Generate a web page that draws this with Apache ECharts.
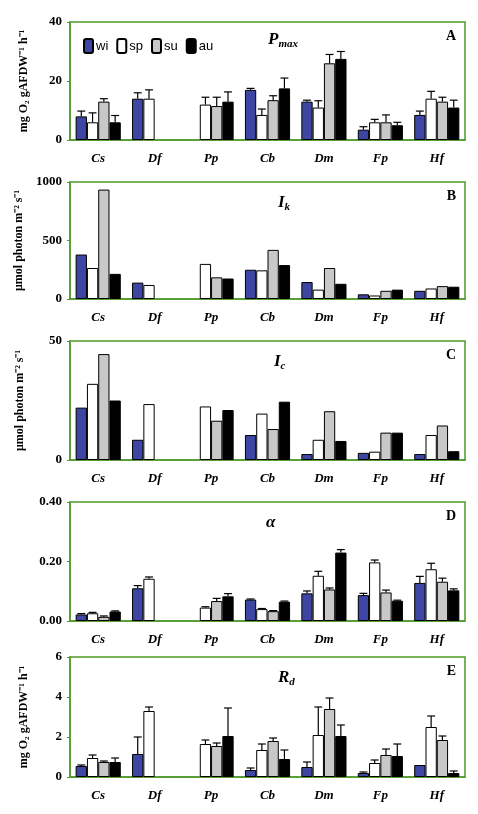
<!DOCTYPE html><html><head><meta charset="utf-8"><script src="https://cdn.jsdelivr.net/npm/echarts@6/dist/echarts.min.js"></script></head><body style="margin:0;background:#fff"><div id="c" style="width:478px;height:814px"></div><script>
const categories=['Cs','Df','Pp','Cb','Dm','Fp','Hf'];
const seasons=['wi','sp','su','au'];
const A_wi=[8,14,null,17,13,3.5,8.5],A_sp=[6,14,12,8.5,11,6,14],A_su=[13,null,11.5,13.5,26,6,13],A_au=[6,null,13,17.5,27.5,5,11];
const A_wiE=[1.8,2,null,0.5,0.5,1,1.3],A_spE=[3.2,3,2.5,2,2.3,1,2.5],A_suE=[1,null,3,1.5,3,2.5,1.5],A_auE=[2.3,null,3.3,3.5,2.5,1,2.5];
const B_wi=[380,140,null,250,145,40,70],B_sp=[265,120,300,245,80,30,90],B_su=[935,null,185,420,265,70,110],B_au=[215,null,175,290,130,80,105];
const C_wi=[22,8.5,null,10.5,2.5,3,2.5],C_sp=[32,23.5,22.5,19.5,8.5,3.5,10.5],C_su=[44.5,null,16.5,13,20.5,11.5,14.5],C_au=[25,null,21,24.5,8,11.5,3.7];
const D_wi=[0.022,0.11,null,0.072,0.093,0.087,0.128],D_sp=[0.026,0.142,0.045,0.04,0.152,0.197,0.174],D_su=[0.014,null,0.067,0.033,0.106,0.096,0.132],D_au=[0.032,null,0.083,0.065,0.23,0.068,0.103];
const D_wiE=[0.003,0.009,null,0.002,0.008,0.006,0.022],D_spE=[0.003,0.006,0.003,0.002,0.015,0.008,0.02],D_suE=[0.003,null,0.009,0.002,0.005,0.008,0.012],D_auE=[0.002,null,0.009,0.002,0.01,0.002,0.005];
const E_wi=[0.55,1.15,null,0.35,0.5,0.2,0.6],E_sp=[0.95,3.3,1.65,1.35,2.1,0.7,2.5],E_su=[0.75,null,1.55,1.8,3.4,1.1,1.85],E_au=[0.75,null,2.05,0.9,2.05,1.05,0.2];
const E_wiE=[0.05,0.85,null,0.1,0.25,0.05,0],E_spE=[0.15,0.2,0.2,0.3,1.4,0.15,0.55],E_suE=[0.05,null,0.15,0.15,0.55,0.3,0.2],E_auE=[0.2,null,1.4,0.45,0.55,0.6,0.1];
const yTicks={A:[0,40,20],B:[0,1000,500],C:[0,50,50],D:[0,0.4,0.2],E:[0,6,2]};

const panels=[
 {id:'A',vals:[A_wi,A_sp,A_su,A_au],errs:[A_wiE,A_spE,A_suE,A_auE],top:22,h:118,name:'mg O₂ gAFDW⁻¹ h⁻¹',title:'{t|P}{s|max}',dec:0},
 {id:'B',vals:[B_wi,B_sp,B_su,B_au],errs:null,top:182,h:117,name:'μmol photon m⁻² s⁻¹',title:'{t|I}{s|k}',dec:0},
 {id:'C',vals:[C_wi,C_sp,C_su,C_au],errs:null,top:341,h:119,name:'μmol photon m⁻² s⁻¹',title:'{t|I}{s|c}',dec:0},
 {id:'D',vals:[D_wi,D_sp,D_su,D_au],errs:[D_wiE,D_spE,D_suE,D_auE],top:502,h:119,name:'',title:'{t|α}',dec:2},
 {id:'E',vals:[E_wi,E_sp,E_su,E_au],errs:[E_wiE,E_spE,E_suE,E_auE],top:657,h:120,name:'mg O₂ gAFDW⁻¹ h⁻¹',title:'{t|R}{s|d}',dec:0}
];
const colors=['#3d47a3','#ffffff','#c8c8c8','#000000'];
const green='#4f9a2a';const GAP=0.2;
const grid=[],xAxis=[],yAxis=[],series=[],graphic=[];
panels.forEach((p,k)=>{
 grid.push({left:70,right:13,top:p.top,height:p.h,show:true,borderColor:green,borderWidth:1.5});
 xAxis.push({type:'category',gridIndex:k,data:categories,axisLine:{lineStyle:{color:green,width:1.5}},axisTick:{lineStyle:{color:green},length:5,inside:false},
  axisLabel:{fontFamily:'Liberation Serif',fontStyle:'italic',fontWeight:'bold',fontSize:13,color:'#000',margin:12}});
 const t=yTicks[p.id];
 yAxis.push({type:'value',gridIndex:k,min:t[0],max:t[1],interval:t[2],splitLine:{show:false},
  axisLine:{show:true,lineStyle:{color:green,width:1.5}},axisTick:{show:true,lineStyle:{color:green},length:3},
  axisLabel:{fontFamily:'Liberation Serif',fontWeight:'bold',fontSize:13,color:'#000',formatter:v=>v.toFixed(p.dec)},
  name:p.name,nameLocation:'middle',nameRotate:90,nameGap:p.id==='A'||p.id==='E'?40:44,
  nameTextStyle:{fontFamily:'Liberation Serif',fontWeight:'bold',fontSize:12,color:'#000'}});
 seasons.forEach((s,i)=>{
  series.push({type:'bar',name:s,xAxisIndex:k,yAxisIndex:k,data:p.vals[i],barGap:'0%',barCategoryGap:(GAP*100)+'%',
   itemStyle:{color:colors[i],borderColor:'#000',borderWidth:1},emphasis:{disabled:true},silent:true});
 });
 if(p.errs){
  seasons.forEach((s,i)=>{
   const d=[];p.vals[i].forEach((v,j)=>{if(v!=null&&p.errs[i][j])d.push([j,v,p.errs[i][j]]);});
   series.push({type:'custom',xAxisIndex:k,yAxisIndex:k,data:d,z:10,silent:true,encode:{x:0,y:1},
    renderItem:(params,api)=>{
     const j=api.value(0),v=api.value(1),e=api.value(2);
     const bw=api.size([1,0])[0]*(1-GAP)/4;
     const a=api.coord([j,v]),b=api.coord([j,v+e]);
     const x=a[0]+(i-1.5)*bw;const cw=bw*0.35;
     return {type:'group',children:[
      {type:'line',shape:{x1:x,y1:a[1],x2:x,y2:b[1]},style:{stroke:'#000',lineWidth:1.2}},
      {type:'line',shape:{x1:x-cw,y1:b[1],x2:x+cw,y2:b[1]},style:{stroke:'#000',lineWidth:1.2}}]};
    }});
  });
 }
 graphic.push({type:'text',left:'center',top:p.top+12,style:{text:p.title,x:0,rich:{t:{fontFamily:'Liberation Serif',fontStyle:'italic',fontWeight:'bold',fontSize:17,fill:'#000'},s:{fontFamily:'Liberation Serif',fontStyle:'italic',fontWeight:'bold',fontSize:11,fill:'#000',padding:[10,0,0,0]}}}});
 graphic.push({type:'text',right:22,top:p.top+7,style:{text:p.id,fontFamily:'Liberation Serif',fontWeight:'bold',fontSize:14,fill:'#000'}});
});
graphic[0].left=268;graphic[0].top=31;graphic[2].left=278;graphic[4].left=274;graphic[6].left=266;graphic[8].left=278;
const ch=echarts.init(document.getElementById('c'));
ch.setOption({animation:false,grid,xAxis,yAxis,series,graphic,
 legend:{data:seasons,left:78,top:33,itemWidth:9,itemHeight:14,itemGap:8,textStyle:{fontFamily:'Liberation Sans',fontSize:13,color:'#000',padding:[0,0,0,-2]}}});
</script></body></html>
